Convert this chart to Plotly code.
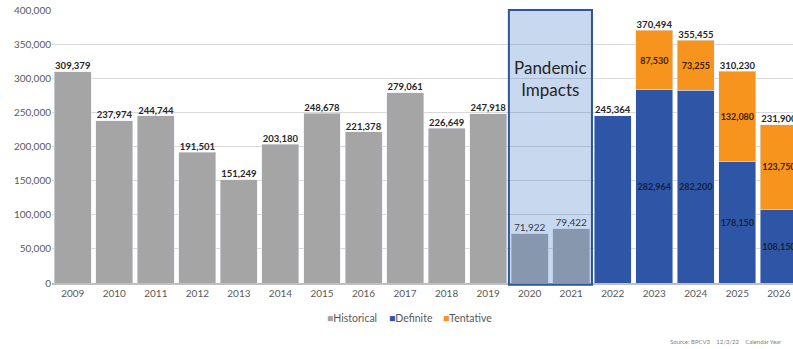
import plotly.graph_objects as go

years = [str(y) for y in range(2009, 2027)]
historical = [309379, 237974, 244744, 191501, 151249, 203180, 248678, 221378,
              279061, 226649, 247918, 71922, 79422, None, None, None, None, None]
definite = [None]*13 + [245364, 282964, 282200, 178150, 108150]
tentative = [None]*13 + [None, 87530, 73255, 132080, 123750]
totals = [309379, 237974, 244744, 191501, 151249, 203180, 248678, 221378,
          279061, 226649, 247918, 71922, 79422, 245364, 370494, 355455, 310230, 231900]
pandemic_years = ["2020", "2021"]
legend_names = ["Historical", "Definite", "Tentative"]

definite_text = ["" if (v is None or i == 13) else f"{v:,}" for i, v in enumerate(definite)]
tentative_text = ["" if v is None else f"{v:,}" for v in tentative]

FONT = "Lato"
GREY, BLUE, ORANGE = "#a5a5a5", "#2f56a6", "#f7941d"

fig = go.Figure()
fig.add_bar(x=years, y=historical, name="Historical", marker_color=GREY)
fig.add_bar(x=years, y=definite, name="Definite", marker_color=BLUE,
            text=definite_text, textposition="inside", insidetextanchor="middle",
            constraintext="none", textangle=0,
            textfont=dict(family=FONT, size=9, color="#14213d", weight="bold"))
fig.add_bar(x=years, y=tentative, name="Tentative", marker_color=ORANGE,
            text=tentative_text, textposition="inside", insidetextanchor="middle",
            constraintext="none", textangle=0,
            textfont=dict(family=FONT, size=9, color="#3a1e05", weight="bold"))

bold_idx = [i for i, y in enumerate(years) if y not in pandemic_years]
norm_idx = [i for i, y in enumerate(years) if y in pandemic_years]
fig.add_scatter(x=[years[i] for i in bold_idx], y=[totals[i] for i in bold_idx],
                mode="text", text=[f"{totals[i]:,}" for i in bold_idx],
                textposition="top center", showlegend=False, hoverinfo="skip",
                textfont=dict(family=FONT, size=9.5, color="#262626", weight="bold"),
                cliponaxis=False)
fig.add_scatter(x=[years[i] for i in norm_idx], y=[totals[i] for i in norm_idx],
                mode="text", text=[f"{totals[i]:,}" for i in norm_idx],
                textposition="top center", showlegend=False, hoverinfo="skip",
                textfont=dict(family=FONT, size=10, color="#262626"),
                cliponaxis=False)

fig.add_shape(type="rect", xref="x", yref="paper", x0=10.5, x1=12.5, y0=-0.006, y1=1.0,
              fillcolor="rgba(56,114,196,0.28)", line=dict(color="#2f5597", width=2),
              layer="above")
fig.add_annotation(x=11.5, y=300000, text="Pandemic<br>Impacts", showarrow=False,
                   font=dict(family=FONT, size=17, color="#262626"))

# legend drawn as text items
for name, color, px in zip(legend_names, [GREY, BLUE, ORANGE], [325, 387, 441]):
    fig.add_annotation(xref="paper", yref="paper", x=(px - 52) / 741, y=(283 - 318) / 273,
                       xanchor="left", yanchor="middle", showarrow=False,
                       text=f"<span style='color:{color}'>■</span>{name}",
                       font=dict(family=FONT, size=10.5, color="#595959"))
fig.add_annotation(xref="paper", yref="paper", x=(784 - 52) / 741, y=(283 - 341) / 273,
                   xanchor="right", yanchor="middle", showarrow=False,
                   text="Source: BPCV3    12/3/22    Calendar Year",
                   font=dict(family=FONT, size=6, color="#7f7f7f"))

fig.update_layout(
    width=793, height=349, barmode="stack", bargap=0.11,
    margin=dict(l=52, r=0, t=10, b=66),
    plot_bgcolor="white", paper_bgcolor="white",
    font=dict(family=FONT, size=10, color="#595959"),
    showlegend=False,
)
fig.update_xaxes(type="category", range=[-0.5, 17.34], showline=True, linecolor="#bfbfbf",
                 linewidth=2, ticks="", tickfont=dict(size=10, color="#595959"))
fig.update_yaxes(range=[0, 400000], dtick=50000, tickformat=",", gridcolor="#d9d9d9",
                 zeroline=False, showline=False, ticks="",
                 tickfont=dict(size=10, color="#595959"))

fig.write_html("out.html", config={"displayModeBar": False},
               post_script="document.body.style.margin='0';document.body.style.overflow='hidden';")
